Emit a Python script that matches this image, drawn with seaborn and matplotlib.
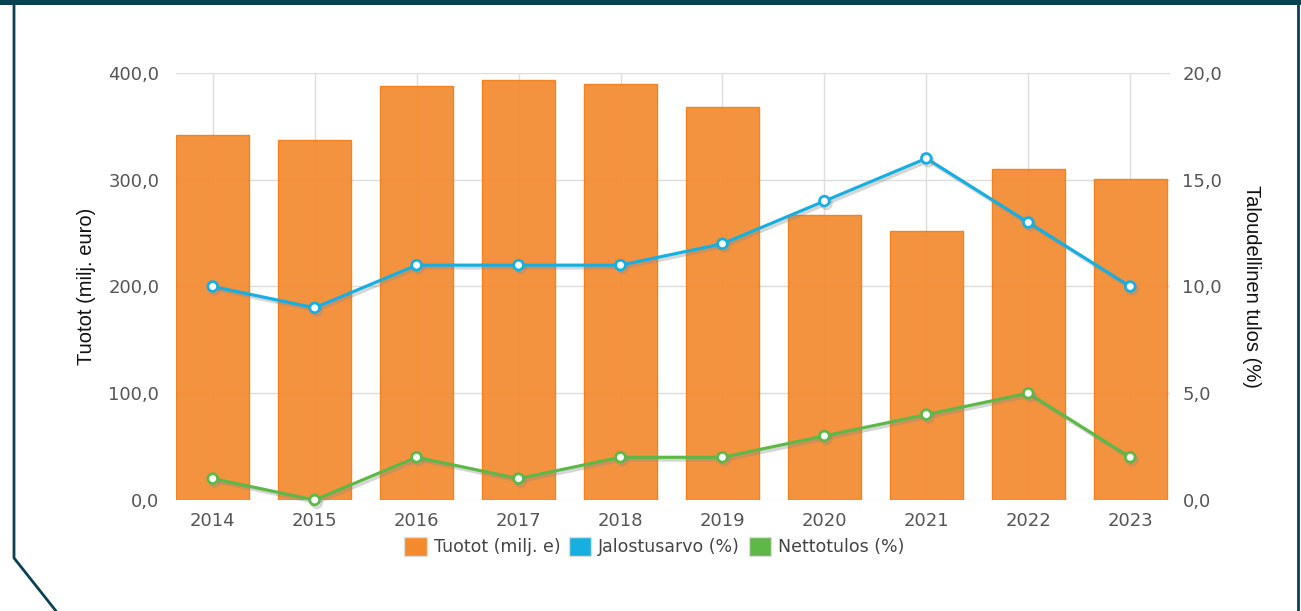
import matplotlib
matplotlib.use("Agg")
import matplotlib.pyplot as plt
import matplotlib.patheffects as pe
from matplotlib.lines import Line2D
from matplotlib.patches import Patch, Rectangle
from matplotlib.ticker import FuncFormatter, MultipleLocator
import numpy as np
import pandas as pd
import seaborn as sns

years = ["2014", "2015", "2016", "2017", "2018", "2019", "2020", "2021", "2022", "2023"]
tuotot = [342, 337, 388, 393, 390, 368, 267, 252, 310, 301]
jalostusarvo = [10, 9, 11, 11, 11, 12, 14, 16, 13, 10]
nettotulos = [1, 0, 2, 1, 2, 2, 3, 4, 5, 2]

ORANGE = "#F48A2E"
BLUE = "#17AEE0"
GREEN = "#5DB847"
FRAME = "#0B4250"
TICK_GREY = "#555555"

sns.set_theme(style="white")
plt.rcParams["font.family"] = ["DejaVu Sans"]

df = pd.DataFrame({"year": years, "tuotot": tuotot,
                   "jalostus": jalostusarvo, "netto": nettotulos})
df["pos"] = np.arange(len(df))

fig = plt.figure(figsize=(13.01, 6.11), dpi=100)
ax = fig.add_axes([0.1353, 0.1817, 0.7640, 0.6988])

sns.barplot(data=df, x="year", y="tuotot", color=ORANGE, width=0.72,
            saturation=1, alpha=0.92, edgecolor="#F07D18", linewidth=1, ax=ax)
ax.set_axisbelow(True)
ax.grid(True, axis="both", color="#DDDDDD", linewidth=1)
ax.set_xlim(-0.36, 9.39)
ax.set_ylim(0, 400)
ax.yaxis.set_major_locator(MultipleLocator(100))
fmt = FuncFormatter(lambda v, _: f"{v:.1f}".replace(".", ","))
ax.yaxis.set_major_formatter(fmt)
for s in ax.spines.values():
    s.set_visible(False)
ax.tick_params(axis="both", length=0, labelsize=13, labelcolor=TICK_GREY)
ax.tick_params(axis="y", pad=12)
ax.tick_params(axis="x", pad=9)
ax.set_xlabel("")
ax.set_ylabel("Tuotot (milj. euro)", fontsize=14.5, family="Liberation Sans",
              color="#111111", labelpad=9)

ax2 = ax.twinx()
shadow = [pe.SimpleLineShadow(offset=(1.5, -2), shadow_color="#888888", alpha=0.35),
          pe.Normal()]
for col, c in [("jalostus", BLUE), ("netto", GREEN)]:
    sns.lineplot(data=df, x="pos", y=col, color=c, linewidth=2.3, marker="o",
                 markersize=7, markerfacecolor="white", markeredgecolor=c,
                 markeredgewidth=2, ax=ax2, path_effects=shadow, clip_on=False)
ax2.set_xlim(-0.36, 9.39)
ax2.set_ylim(0, 20)
ax2.yaxis.set_major_locator(MultipleLocator(5))
ax2.yaxis.set_major_formatter(fmt)
for s in ax2.spines.values():
    s.set_visible(False)
ax2.tick_params(axis="y", length=0, labelsize=13, labelcolor=TICK_GREY, pad=9)
ax2.set_ylabel("Taloudellinen tulos (%)", fontsize=14.5, family="Liberation Sans",
               color="#111111", rotation=270, labelpad=28)
ax2.set_xlabel("")

handles = [Patch(facecolor=ORANGE, edgecolor="#DDDDDD"),
           Patch(facecolor=BLUE, edgecolor="#DDDDDD"),
           Patch(facecolor=GREEN, edgecolor="#DDDDDD")]
labels = ["Tuotot (milj. e)", "Jalostusarvo (%)", "Nettotulos (%)"]
leg = fig.legend(handles, labels, loc="center", bbox_to_anchor=(0.503, 0.106),
                 ncol=3, frameon=False, fontsize=12.5, handlelength=1.3,
                 handleheight=1.3, handletextpad=0.4, columnspacing=0.5)
for t in leg.get_texts():
    t.set_color("#444444")

# decorative frame
fig.add_artist(Rectangle((0, 1 - 5 / 611), 1, 5 / 611, transform=fig.transFigure,
                         color=FRAME, lw=0))
fig.add_artist(Line2D([14 / 1301, 14 / 1301, 56 / 1301], [1, 1 - 558 / 611, 0],
                      transform=fig.transFigure, color=FRAME, lw=2))
fig.add_artist(Line2D([1298 / 1301, 1298 / 1301], [1, 0],
                      transform=fig.transFigure, color=FRAME, lw=2))

fig.savefig("out.png", dpi=100)
